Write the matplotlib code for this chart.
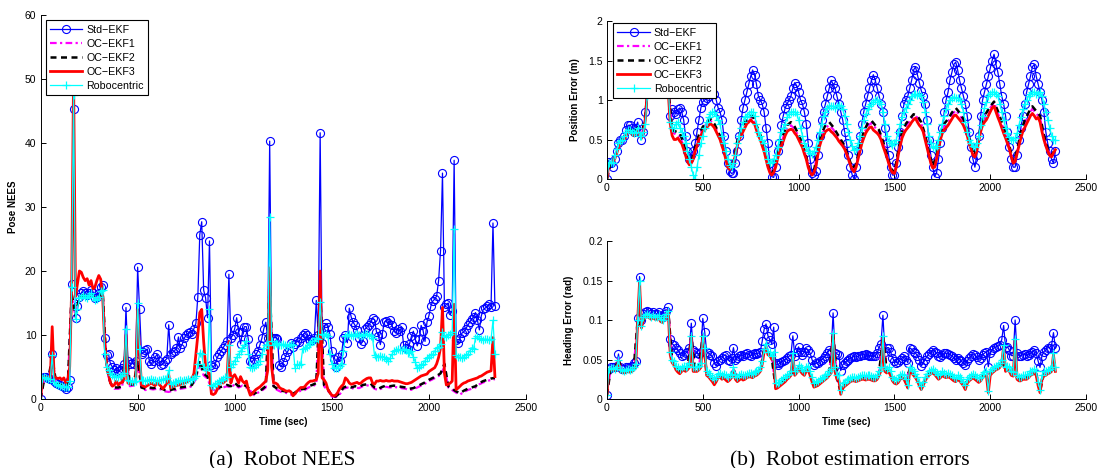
import matplotlib
matplotlib.use("Agg")
import matplotlib.pyplot as plt
import numpy as np

# sample times (s): filters logged every 10 s, OC-EKF1/2 kept every 20 s
t10 = np.arange(0, 2341, 10)
t20 = np.arange(0, 2341, 20)

# ---------------- pose NEES ----------------
std_nees = [
    0, 3.3, 3.5, 3.5, 3.3, 3.2, 7.0, 2.8, 2.5, 2.3,
    2.2, 2.0, 1.8, 1.6, 1.8, 3.0, 18.0, 45.3, 12.6, 14.5,
    16.0, 16.5, 16.8, 16.5, 16.2, 16.6, 17.0, 16.5, 15.8, 16.0,
    16.5, 17.5, 17.8, 9.6, 6.8, 7.0, 5.5, 5.0, 4.5, 4.8,
    4.3, 4.6, 4.8, 5.5, 14.3, 6.0, 5.5, 5.6, 5.5, 6.0,
    20.6, 14.0, 7.0, 7.3, 7.6, 7.8, 6.0, 5.5, 6.0, 6.5,
    7.0, 6.0, 5.3, 5.5, 6.0, 6.3, 11.6, 7.0, 7.3, 7.5,
    8.0, 9.7, 8.0, 8.6, 9.5, 10.0, 10.3, 10.5, 10.2, 11.0,
    11.8, 16.0, 25.7, 27.7, 17.0, 15.8, 12.7, 24.7, 5.3, 5.0,
    5.5, 6.5, 7.0, 7.5, 8.0, 8.5, 9.0, 19.5, 9.5, 10.0,
    11.0, 12.7, 10.5, 8.6, 10.5, 11.3, 11.3, 9.3, 6.0, 5.8,
    6.3, 7.0, 7.5, 8.5, 9.5, 11.0, 12.0, 9.5, 40.3, 9.5,
    9.6, 9.6, 9.4, 5.3, 5.0, 5.8, 6.5, 7.3, 7.8, 8.8,
    8.2, 8.6, 9.0, 8.9, 9.5, 10.0, 10.3, 10.0, 9.4, 9.0,
    9.2, 9.5, 15.4, 10.0, 41.6, 8.8, 11.3, 11.8, 11.2, 10.1,
    7.5, 6.2, 5.0, 6.5, 5.9, 7.0, 9.5, 10.0, 8.8, 14.2,
    12.8, 12.0, 11.5, 10.8, 9.6, 8.6, 9.0, 10.9, 11.2, 11.6,
    12.0, 12.6, 12.4, 10.5, 9.9, 8.5, 10.2, 12.0, 12.2, 11.8,
    12.3, 11.5, 10.6, 10.3, 11.0, 10.7, 11.2, 8.4, 8.0, 7.8,
    8.6, 9.8, 10.6, 9.3, 8.3, 9.3, 11.5, 10.7, 9.0, 12.0,
    13.0, 14.5, 15.3, 15.6, 16.1, 18.5, 23.2, 35.3, 14.3, 14.8,
    15.0, 13.2, 13.8, 37.3, 9.2, 8.7, 9.5, 10.3, 10.5, 11.0,
    11.5, 12.0, 12.5, 12.8, 13.5, 12.3, 10.8, 13.0, 14.0, 14.2,
    14.5, 14.8, 14.4, 27.5, 14.6]

rob_nees = [
    0, 3.3, 3.4, 3.3, 3.2, 3.2, 6.8, 2.6, 2.4, 2.2,
    2.1, 2.0, 1.9, 1.8, 1.9, 2.8, 17.5, 47.5, 12.5, 14.0,
    15.8, 16.0, 16.3, 16.0, 15.8, 16.2, 16.5, 16.0, 15.5, 15.6,
    16.0, 16.8, 17.0, 7.0, 5.0, 4.5, 4.0, 3.7, 3.5, 3.5,
    3.5, 3.6, 3.8, 4.0, 11.0, 3.0, 2.8, 2.8, 2.7, 2.8,
    15.0, 7.8, 3.0, 2.9, 2.8, 2.9, 3.0, 3.1, 3.0, 2.9,
    2.8, 2.9, 3.0, 3.1, 3.2, 3.3, 4.5, 2.3, 2.5, 2.6,
    2.7, 2.8, 2.9, 2.8, 2.9, 3.0, 3.1, 3.0, 3.1, 3.3,
    3.6, 5.5, 7.2, 7.0, 5.0, 4.5, 5.0, 14.0, 2.2, 2.0,
    2.3, 2.5, 2.8, 3.0, 3.2, 3.4, 3.5, 8.5, 5.0, 5.5,
    6.0, 6.5, 7.0, 7.5, 8.0, 8.5, 9.0, 7.0, 5.0, 4.8,
    5.0, 5.3, 5.5, 6.0, 7.0, 8.0, 8.5, 8.5, 28.4, 9.0,
    8.5, 8.8, 8.6, 8.4, 8.5, 8.6, 8.5, 8.3, 8.5, 8.6,
    8.4, 4.9, 5.4, 5.3, 5.5, 7.8, 8.0, 8.2, 8.5, 8.8,
    9.0, 9.1, 9.5, 9.3, 15.1, 10.1, 10.0, 10.2, 9.8, 7.0,
    5.5, 4.9, 4.8, 4.9, 5.2, 5.4, 7.5, 9.8, 10.0, 10.1,
    10.0, 9.9, 10.1, 10.2, 10.0, 9.8, 10.0, 10.1, 10.2, 10.0,
    9.9, 9.5, 6.8, 6.6, 6.5, 6.7, 6.6, 6.5, 6.2, 6.0,
    6.4, 7.0, 7.5, 7.7, 7.8, 7.6, 7.7, 7.8, 7.6, 7.2,
    7.4, 7.5, 6.5, 5.8, 4.9, 5.0, 5.3, 5.5, 6.0, 6.4,
    6.6, 6.8, 7.0, 7.5, 8.0, 8.2, 8.6, 10.4, 9.8, 9.7,
    10.0, 10.2, 10.4, 26.6, 6.8, 6.6, 6.5, 6.4, 6.6, 6.8,
    7.0, 7.5, 8.0, 7.8, 9.6, 9.8, 9.6, 9.3, 9.2, 9.4,
    9.3, 9.2, 9.3, 12.3, 7.0]

oc3_nees = [
    0, 3.3, 3.4, 3.3, 3.3, 3.2, 11.3, 3.5, 3.3, 3.2,
    3.3, 3.0, 3.3, 2.5, 3.0, 5.0, 17.0, 50.5, 16.0, 18.0,
    20.0, 19.8, 19.0, 18.5, 18.8, 17.8, 18.5, 17.2, 17.5, 18.5,
    19.3, 18.7, 16.0, 9.0, 5.5, 4.0, 2.5, 2.0, 2.2, 2.8,
    2.2, 2.5, 2.6, 3.0, 10.0, 2.5, 2.4, 2.5, 2.5, 2.8,
    14.0, 7.0, 2.2, 2.0, 1.9, 2.1, 2.3, 2.5, 2.3, 2.1,
    2.5, 2.3, 2.0, 1.6, 2.0, 2.4, 3.8, 1.7, 1.9, 2.0,
    2.1, 2.2, 2.3, 2.4, 2.5, 2.6, 2.8, 3.0, 3.2, 4.0,
    7.0, 10.0, 13.5, 14.0, 9.0, 5.0, 4.0, 4.0, 0.8, 0.7,
    0.9, 1.5, 2.4, 3.0, 2.5, 2.8, 3.0, 9.0, 2.5, 3.5,
    3.8, 3.2, 2.5, 3.5, 2.8, 2.5, 2.8, 1.5, 0.6, 0.8,
    1.2, 1.5, 1.7, 1.9, 2.2, 2.5, 2.8, 4.5, 20.5, 5.0,
    2.5, 2.5, 2.3, 1.8, 1.6, 1.5, 1.3, 1.2, 1.3, 1.1,
    0.5, 0.8, 1.2, 1.5, 1.8, 1.8, 1.9, 2.3, 2.6, 2.8,
    2.8, 2.9, 3.0, 4.0, 20.0, 3.3, 3.0, 2.5, 1.5, 1.0,
    0.6, 0.5, 0.6, 1.0, 1.6, 2.0, 2.3, 3.3, 3.0, 2.5,
    2.3, 2.4, 2.5, 2.6, 2.4, 2.5, 2.8, 3.0, 3.2, 3.3,
    3.3, 2.5, 2.3, 2.8, 2.8, 2.9, 2.8, 2.8, 2.9, 2.8,
    2.8, 2.9, 2.8, 2.8, 2.8, 2.7, 2.6, 2.5, 2.4, 2.4,
    2.5, 2.6, 2.8, 3.0, 3.2, 3.4, 3.6, 3.7, 3.8, 3.9,
    4.3, 4.5, 4.7, 4.9, 5.5, 6.5, 8.0, 14.3, 4.0, 2.2,
    2.3, 2.5, 2.8, 14.8, 1.5, 1.7, 2.0, 2.3, 2.5, 2.6,
    2.8, 2.9, 3.0, 3.1, 3.2, 3.3, 3.5, 3.6, 3.8, 4.0,
    4.2, 4.3, 4.4, 9.6, 3.5]

oc2_nees = [
    0, 3.3, 3.2, 6.5, 2.6, 2.3, 2.0, 2.0, 16.5, 13.0,
    16.0, 16.2, 16.0, 16.3, 15.8, 16.0, 16.8, 5.0, 2.5, 1.8,
    1.8, 2.0, 8.0, 2.2, 2.3, 6.0, 1.8, 1.6, 1.8, 1.7,
    1.8, 1.7, 1.4, 1.3, 1.5, 1.6, 1.8, 1.9, 2.0, 2.2,
    3.5, 6.0, 4.0, 3.5, 1.8, 1.5, 1.8, 2.0, 2.2, 2.0,
    2.5, 2.0, 2.3, 2.0, 1.5, 0.8, 1.2, 1.5, 2.0, 18.0,
    2.0, 1.6, 1.3, 1.2, 1.0, 0.8, 1.2, 1.5, 1.6, 2.0,
    2.2, 2.5, 17.0, 2.2, 1.5, 0.5, 0.4, 0.9, 1.8, 2.0,
    1.8, 2.0, 1.9, 2.2, 2.3, 2.4, 1.8, 1.6, 1.9, 2.1,
    2.0, 2.1, 2.0, 1.9, 1.8, 1.6, 1.7, 2.0, 2.3, 2.6,
    3.0, 3.3, 3.6, 4.0, 5.5, 2.0, 1.6, 1.2, 0.9, 1.3,
    1.6, 1.8, 2.0, 2.5, 2.8, 3.0, 3.2, 3.3]

oc1_nees = [
    0, 3.2, 3.1, 6.3, 2.5, 2.2, 1.9, 1.9, 16.3, 12.8,
    15.8, 16.0, 15.8, 16.1, 15.6, 15.8, 16.5, 4.8, 2.3, 1.6,
    1.6, 1.8, 7.5, 2.0, 2.1, 5.5, 1.6, 1.4, 1.6, 1.5,
    1.6, 1.5, 1.2, 1.1, 1.3, 1.4, 1.6, 1.7, 1.8, 2.0,
    3.2, 5.5, 3.7, 3.2, 1.6, 1.3, 1.6, 1.8, 2.0, 1.8,
    2.3, 1.8, 2.1, 1.8, 1.3, 0.6, 1.0, 1.3, 1.8, 17.0,
    1.8, 1.4, 1.1, 1.0, 0.8, 0.6, 1.0, 1.3, 1.4, 1.8,
    2.0, 2.3, 16.0, 2.0, 1.3, 0.4, 0.3, 0.7, 1.6, 1.8,
    1.6, 1.8, 1.7, 2.0, 2.1, 2.2, 1.6, 1.4, 1.7, 1.9,
    1.8, 1.9, 1.8, 1.7, 1.6, 1.4, 1.5, 1.8, 2.1, 2.4,
    2.8, 3.1, 3.4, 3.8, 5.0, 1.8, 1.4, 1.0, 0.7, 1.1,
    1.4, 1.6, 1.8, 2.3, 2.6, 2.8, 3.0, 3.1]

# ---------------- position error (m) ----------------
std_pos = [
    0, 0.22, 0.20, 0.15, 0.25, 0.35, 0.45, 0.50, 0.50, 0.55,
    0.62, 0.68, 0.68, 0.65, 0.60, 0.65, 0.72, 0.60, 0.50, 0.60,
    0.85, 1.15, 1.40, 1.50, 1.45, 1.40, 1.35, 1.40, 1.45, 1.40,
    1.35, 1.30, 1.25, 0.80, 0.88, 0.85, 0.82, 0.88, 0.90, 0.85,
    0.75, 0.55, 0.35, 0.25, 0.30, 0.35, 0.45, 0.60, 0.75, 0.90,
    0.98, 1.00, 1.02, 1.05, 1.10, 1.12, 1.08, 1.00, 0.90, 0.85,
    0.75, 0.55, 0.35, 0.20, 0.10, 0.07, 0.08, 0.20, 0.35, 0.55,
    0.75, 0.90, 1.00, 1.10, 1.20, 1.30, 1.38, 1.32, 1.20, 1.05,
    1.00, 0.95, 0.85, 0.65, 0.45, 0.20, 0.03, 0.02, 0.15, 0.35,
    0.45, 0.68, 0.80, 0.90, 0.95, 1.00, 1.05, 1.15, 1.22, 1.18,
    1.10, 1.00, 0.95, 0.85, 0.70, 0.45, 0.25, 0.08, 0.05, 0.10,
    0.30, 0.55, 0.75, 0.85, 0.95, 1.05, 1.15, 1.25, 1.20, 1.15,
    1.05, 0.95, 0.85, 0.75, 0.60, 0.45, 0.30, 0.15, 0.05, 0.00,
    0.15, 0.35, 0.55, 0.70, 0.85, 0.95, 1.05, 1.15, 1.25, 1.32,
    1.25, 1.15, 1.05, 0.95, 0.85, 0.65, 0.45, 0.30, 0.15, 0.05,
    0.05, 0.20, 0.40, 0.60, 0.80, 0.95, 1.00, 1.05, 1.15, 1.25,
    1.38, 1.42, 1.32, 1.22, 1.12, 1.05, 0.95, 0.75, 0.50, 0.30,
    0.15, 0.03, 0.08, 0.25, 0.45, 0.65, 0.85, 1.00, 1.10, 1.25,
    1.35, 1.45, 1.48, 1.38, 1.25, 1.15, 1.05, 0.95, 0.80, 0.60,
    0.40, 0.25, 0.15, 0.30, 0.55, 0.80, 1.00, 1.10, 1.20, 1.30,
    1.40, 1.50, 1.58, 1.45, 1.35, 1.20, 1.05, 0.95, 0.80, 0.60,
    0.40, 0.25, 0.15, 0.15, 0.30, 0.50, 0.65, 0.80, 0.95, 1.10,
    1.20, 1.30, 1.42, 1.45, 1.30, 1.20, 1.10, 1.00, 0.85, 0.60,
    0.45, 0.35, 0.25, 0.20, 0.35]

rob_pos = [
    0, 0.20, 0.22, 0.20, 0.30, 0.38, 0.45, 0.48, 0.50, 0.55,
    0.60, 0.62, 0.62, 0.60, 0.58, 0.60, 0.65, 0.55, 0.55, 0.60,
    0.70, 1.05, 1.30, 1.40, 1.35, 1.30, 1.25, 1.30, 1.35, 1.30,
    1.25, 1.20, 1.15, 0.72, 0.65, 0.65, 0.70, 0.72, 0.65, 0.60,
    0.55, 0.45, 0.35, 0.25, 0.15, 0.05, 0.00, 0.15, 0.30, 0.45,
    0.55, 0.65, 0.72, 0.78, 0.82, 0.85, 0.85, 0.80, 0.75, 0.70,
    0.55, 0.45, 0.35, 0.25, 0.18, 0.15, 0.20, 0.30, 0.45, 0.55,
    0.65, 0.72, 0.78, 0.80, 0.82, 0.85, 0.85, 0.80, 0.70, 0.60,
    0.55, 0.50, 0.45, 0.35, 0.25, 0.20, 0.22, 0.25, 0.30, 0.40,
    0.50, 0.60, 0.65, 0.70, 0.78, 0.82, 0.85, 0.85, 0.85, 0.82,
    0.75, 0.65, 0.55, 0.45, 0.40, 0.35, 0.33, 0.32, 0.35, 0.40,
    0.50, 0.60, 0.70, 0.80, 0.85, 0.90, 0.92, 0.93, 0.92, 0.90,
    0.93, 0.94, 0.93, 0.88, 0.80, 0.70, 0.60, 0.50, 0.42, 0.37,
    0.38, 0.45, 0.55, 0.65, 0.75, 0.82, 0.88, 0.92, 0.95, 0.98,
    1.00, 1.00, 0.98, 0.95, 0.85, 0.70, 0.55, 0.48, 0.45, 0.43,
    0.45, 0.50, 0.60, 0.70, 0.78, 0.85, 0.90, 0.95, 1.00, 1.05,
    1.07, 1.07, 1.06, 1.07, 1.05, 0.98, 0.85, 0.70, 0.55, 0.45,
    0.40, 0.39, 0.42, 0.50, 0.60, 0.70, 0.80, 0.88, 0.95, 1.00,
    1.02, 1.04, 1.03, 1.02, 1.00, 0.95, 0.85, 0.72, 0.60, 0.50,
    0.45, 0.42, 0.41, 0.45, 0.55, 0.68, 0.80, 0.90, 0.98, 1.05,
    1.08, 1.10, 1.10, 1.08, 1.05, 0.95, 0.85, 0.75, 0.65, 0.58,
    0.53, 0.50, 0.50, 0.52, 0.58, 0.68, 0.78, 0.88, 0.95, 1.00,
    1.05, 1.08, 1.10, 1.10, 1.08, 1.08, 1.10, 1.05, 0.95, 0.85,
    0.75, 0.65, 0.55, 0.50, 0.50]

oc3_pos = [
    0, 0.20, 0.20, 0.22, 0.25, 0.32, 0.40, 0.45, 0.48, 0.50,
    0.55, 0.60, 0.60, 0.57, 0.55, 0.58, 0.62, 0.55, 0.52, 0.58,
    0.75, 1.10, 1.30, 1.35, 1.30, 1.25, 1.20, 1.25, 1.30, 1.25,
    1.20, 1.15, 1.10, 0.70, 0.55, 0.50, 0.50, 0.52, 0.48, 0.45,
    0.38, 0.30, 0.22, 0.18, 0.20, 0.25, 0.35, 0.42, 0.50, 0.55,
    0.60, 0.62, 0.65, 0.68, 0.70, 0.68, 0.65, 0.60, 0.55, 0.50,
    0.42, 0.35, 0.25, 0.15, 0.12, 0.15, 0.20, 0.30, 0.42, 0.50,
    0.55, 0.60, 0.65, 0.70, 0.72, 0.75, 0.72, 0.70, 0.62, 0.55,
    0.50, 0.42, 0.35, 0.25, 0.15, 0.08, 0.05, 0.08, 0.15, 0.25,
    0.35, 0.42, 0.48, 0.55, 0.60, 0.62, 0.63, 0.62, 0.58, 0.55,
    0.50, 0.45, 0.40, 0.32, 0.25, 0.15, 0.08, 0.05, 0.08, 0.15,
    0.30, 0.42, 0.50, 0.55, 0.60, 0.62, 0.63, 0.60, 0.58, 0.55,
    0.52, 0.48, 0.45, 0.42, 0.38, 0.32, 0.25, 0.18, 0.12, 0.09,
    0.15, 0.25, 0.35, 0.45, 0.52, 0.58, 0.62, 0.65, 0.66, 0.62,
    0.60, 0.58, 0.55, 0.50, 0.42, 0.35, 0.28, 0.20, 0.12, 0.08,
    0.07, 0.15, 0.30, 0.42, 0.52, 0.58, 0.62, 0.65, 0.68, 0.72,
    0.75, 0.77, 0.72, 0.68, 0.65, 0.60, 0.50, 0.40, 0.30, 0.20,
    0.14, 0.15, 0.25, 0.38, 0.50, 0.58, 0.62, 0.65, 0.68, 0.72,
    0.76, 0.80, 0.81, 0.78, 0.75, 0.72, 0.68, 0.62, 0.55, 0.45,
    0.38, 0.30, 0.28, 0.35, 0.48, 0.60, 0.68, 0.72, 0.75, 0.80,
    0.85, 0.90, 0.92, 0.85, 0.78, 0.72, 0.65, 0.58, 0.52, 0.45,
    0.38, 0.28, 0.20, 0.22, 0.32, 0.42, 0.52, 0.60, 0.65, 0.70,
    0.75, 0.80, 0.83, 0.80, 0.76, 0.78, 0.72, 0.60, 0.50, 0.42,
    0.35, 0.30, 0.28, 0.33, 0.37]

oc2_pos = [
    0, 0.21, 0.27, 0.43, 0.50, 0.58, 0.63, 0.58, 0.65, 0.55,
    0.80, 1.35, 1.35, 1.25, 1.35, 1.25, 1.15, 0.62, 0.60, 0.58,
    0.45, 0.26, 0.22, 0.40, 0.56, 0.66, 0.72, 0.76, 0.70, 0.60,
    0.46, 0.28, 0.13, 0.22, 0.48, 0.62, 0.72, 0.78, 0.80, 0.68,
    0.56, 0.40, 0.18, 0.06, 0.18, 0.42, 0.56, 0.68, 0.72, 0.66,
    0.56, 0.45, 0.28, 0.09, 0.10, 0.36, 0.58, 0.68, 0.72, 0.66,
    0.58, 0.50, 0.42, 0.28, 0.14, 0.18, 0.42, 0.60, 0.70, 0.74,
    0.68, 0.62, 0.48, 0.32, 0.14, 0.08, 0.36, 0.60, 0.70, 0.76,
    0.82, 0.80, 0.72, 0.56, 0.34, 0.16, 0.30, 0.58, 0.70, 0.76,
    0.84, 0.90, 0.84, 0.76, 0.62, 0.42, 0.30, 0.54, 0.76, 0.84,
    0.92, 0.98, 0.86, 0.72, 0.58, 0.42, 0.22, 0.36, 0.60, 0.74,
    0.84, 0.92, 0.86, 0.80, 0.56, 0.38, 0.30, 0.38]

oc1_pos = [
    0, 0.20, 0.26, 0.42, 0.49, 0.57, 0.62, 0.57, 0.64, 0.54,
    0.78, 1.33, 1.33, 1.23, 1.33, 1.23, 1.13, 0.60, 0.56, 0.54,
    0.42, 0.24, 0.21, 0.38, 0.54, 0.64, 0.70, 0.74, 0.68, 0.58,
    0.45, 0.27, 0.13, 0.21, 0.46, 0.60, 0.70, 0.76, 0.78, 0.66,
    0.54, 0.38, 0.17, 0.06, 0.17, 0.40, 0.53, 0.65, 0.68, 0.63,
    0.54, 0.43, 0.27, 0.09, 0.09, 0.34, 0.55, 0.65, 0.68, 0.63,
    0.56, 0.48, 0.40, 0.27, 0.13, 0.17, 0.40, 0.57, 0.67, 0.71,
    0.65, 0.60, 0.46, 0.30, 0.13, 0.08, 0.34, 0.57, 0.67, 0.73,
    0.80, 0.78, 0.70, 0.54, 0.33, 0.15, 0.28, 0.55, 0.67, 0.73,
    0.81, 0.87, 0.81, 0.73, 0.60, 0.40, 0.29, 0.52, 0.73, 0.81,
    0.90, 0.97, 0.83, 0.70, 0.56, 0.40, 0.21, 0.34, 0.57, 0.71,
    0.81, 0.89, 0.83, 0.77, 0.54, 0.37, 0.29, 0.38]

# ---------------- heading error (rad) ----------------
std_head = [
    0.005, 0.038, 0.040, 0.040, 0.040, 0.042, 0.057, 0.040, 0.038, 0.038,
    0.040, 0.041, 0.040, 0.042, 0.045, 0.048, 0.103, 0.155, 0.100, 0.108,
    0.110, 0.112, 0.110, 0.108, 0.110, 0.108, 0.108, 0.110, 0.105, 0.104,
    0.108, 0.112, 0.116, 0.076, 0.070, 0.068, 0.064, 0.062, 0.058, 0.055,
    0.056, 0.058, 0.060, 0.065, 0.096, 0.062, 0.060, 0.058, 0.057, 0.060,
    0.102, 0.085, 0.060, 0.058, 0.056, 0.054, 0.045, 0.042, 0.048, 0.050,
    0.052, 0.055, 0.056, 0.050, 0.048, 0.052, 0.065, 0.050, 0.052, 0.055,
    0.056, 0.055, 0.057, 0.058, 0.056, 0.055, 0.057, 0.058, 0.057, 0.058,
    0.060, 0.073, 0.088, 0.095, 0.080, 0.075, 0.070, 0.091, 0.045, 0.043,
    0.045, 0.047, 0.048, 0.050, 0.052, 0.054, 0.056, 0.080, 0.055, 0.060,
    0.066, 0.060, 0.056, 0.060, 0.064, 0.062, 0.058, 0.050, 0.043, 0.045,
    0.046, 0.048, 0.050, 0.052, 0.055, 0.058, 0.062, 0.060, 0.109, 0.058,
    0.057, 0.056, 0.036, 0.043, 0.046, 0.048, 0.050, 0.052, 0.053, 0.054,
    0.053, 0.054, 0.055, 0.056, 0.056, 0.057, 0.056, 0.055, 0.054, 0.054,
    0.055, 0.058, 0.065, 0.070, 0.106, 0.060, 0.065, 0.065, 0.060, 0.052,
    0.048, 0.046, 0.047, 0.050, 0.052, 0.055, 0.050, 0.046, 0.065, 0.063,
    0.060, 0.058, 0.055, 0.050, 0.042, 0.045, 0.050, 0.054, 0.057, 0.060,
    0.062, 0.060, 0.058, 0.055, 0.053, 0.056, 0.058, 0.058, 0.057, 0.056,
    0.055, 0.052, 0.050, 0.052, 0.050, 0.048, 0.045, 0.043, 0.048, 0.052,
    0.055, 0.057, 0.056, 0.053, 0.050, 0.052, 0.056, 0.058, 0.060, 0.041,
    0.058, 0.062, 0.065, 0.066, 0.067, 0.068, 0.075, 0.093, 0.065, 0.066,
    0.062, 0.055, 0.055, 0.100, 0.058, 0.055, 0.055, 0.056, 0.057, 0.055,
    0.056, 0.058, 0.060, 0.062, 0.058, 0.048, 0.040, 0.055, 0.060, 0.062,
    0.065, 0.065, 0.068, 0.084, 0.065]

rob_head = [
    0.005, 0.038, 0.039, 0.039, 0.038, 0.040, 0.050, 0.038, 0.037, 0.036,
    0.037, 0.038, 0.037, 0.038, 0.040, 0.044, 0.100, 0.150, 0.093, 0.104,
    0.106, 0.108, 0.106, 0.104, 0.106, 0.104, 0.104, 0.106, 0.101, 0.100,
    0.104, 0.108, 0.112, 0.060, 0.050, 0.048, 0.042, 0.040, 0.038, 0.040,
    0.042, 0.040, 0.042, 0.045, 0.080, 0.040, 0.040, 0.040, 0.042, 0.045,
    0.080, 0.065, 0.035, 0.033, 0.030, 0.028, 0.025, 0.028, 0.032, 0.033,
    0.030, 0.032, 0.030, 0.028, 0.030, 0.032, 0.040, 0.030, 0.028, 0.030,
    0.032, 0.030, 0.030, 0.032, 0.033, 0.033, 0.032, 0.034, 0.035, 0.037,
    0.040, 0.048, 0.063, 0.070, 0.060, 0.060, 0.055, 0.060, 0.020, 0.020,
    0.022, 0.024, 0.026, 0.028, 0.030, 0.032, 0.035, 0.058, 0.035, 0.038,
    0.043, 0.040, 0.038, 0.035, 0.040, 0.042, 0.035, 0.028, 0.020, 0.022,
    0.023, 0.025, 0.027, 0.028, 0.030, 0.032, 0.035, 0.038, 0.084, 0.040,
    0.030, 0.030, 0.011, 0.020, 0.022, 0.024, 0.025, 0.027, 0.028, 0.028,
    0.027, 0.028, 0.029, 0.030, 0.030, 0.029, 0.030, 0.030, 0.029, 0.028,
    0.028, 0.030, 0.035, 0.040, 0.080, 0.040, 0.038, 0.040, 0.035, 0.028,
    0.025, 0.024, 0.026, 0.030, 0.032, 0.030, 0.025, 0.018, 0.040, 0.038,
    0.035, 0.032, 0.028, 0.022, 0.017, 0.022, 0.028, 0.032, 0.035, 0.037,
    0.038, 0.036, 0.033, 0.030, 0.032, 0.035, 0.033, 0.032, 0.033, 0.032,
    0.030, 0.028, 0.027, 0.030, 0.028, 0.025, 0.022, 0.018, 0.025, 0.028,
    0.030, 0.032, 0.030, 0.028, 0.026, 0.028, 0.032, 0.034, 0.035, 0.010,
    0.035, 0.038, 0.040, 0.042, 0.043, 0.045, 0.050, 0.068, 0.040, 0.042,
    0.040, 0.035, 0.034, 0.076, 0.030, 0.028, 0.028, 0.030, 0.030, 0.030,
    0.032, 0.035, 0.036, 0.038, 0.035, 0.022, 0.012, 0.030, 0.035, 0.035,
    0.037, 0.038, 0.040, 0.058, 0.040]

oc3_head = [
    0.005, 0.037, 0.037, 0.037, 0.036, 0.037, 0.048, 0.035, 0.034, 0.033,
    0.034, 0.035, 0.034, 0.035, 0.037, 0.041, 0.098, 0.148, 0.090, 0.101,
    0.103, 0.105, 0.103, 0.101, 0.103, 0.101, 0.101, 0.103, 0.098, 0.097,
    0.101, 0.105, 0.110, 0.056, 0.046, 0.043, 0.037, 0.034, 0.032, 0.035,
    0.037, 0.035, 0.037, 0.040, 0.078, 0.035, 0.035, 0.035, 0.037, 0.040,
    0.078, 0.060, 0.030, 0.028, 0.025, 0.022, 0.018, 0.022, 0.027, 0.028,
    0.025, 0.027, 0.024, 0.022, 0.024, 0.027, 0.036, 0.025, 0.022, 0.024,
    0.026, 0.024, 0.025, 0.027, 0.028, 0.028, 0.027, 0.029, 0.030, 0.032,
    0.035, 0.044, 0.060, 0.067, 0.056, 0.055, 0.050, 0.056, 0.013, 0.014,
    0.016, 0.018, 0.020, 0.022, 0.025, 0.027, 0.030, 0.055, 0.030, 0.033,
    0.038, 0.035, 0.032, 0.030, 0.035, 0.037, 0.030, 0.022, 0.015, 0.016,
    0.017, 0.019, 0.021, 0.023, 0.025, 0.027, 0.030, 0.033, 0.082, 0.035,
    0.025, 0.024, 0.006, 0.014, 0.016, 0.018, 0.020, 0.022, 0.023, 0.023,
    0.022, 0.023, 0.024, 0.025, 0.025, 0.024, 0.025, 0.025, 0.024, 0.023,
    0.023, 0.025, 0.030, 0.036, 0.078, 0.035, 0.033, 0.035, 0.030, 0.023,
    0.020, 0.019, 0.021, 0.025, 0.027, 0.025, 0.020, 0.014, 0.036, 0.033,
    0.030, 0.027, 0.023, 0.017, 0.012, 0.017, 0.023, 0.027, 0.030, 0.032,
    0.033, 0.031, 0.028, 0.025, 0.027, 0.030, 0.028, 0.027, 0.028, 0.027,
    0.025, 0.023, 0.022, 0.025, 0.023, 0.020, 0.017, 0.012, 0.020, 0.023,
    0.025, 0.027, 0.025, 0.023, 0.021, 0.023, 0.027, 0.029, 0.030, 0.008,
    0.030, 0.033, 0.035, 0.037, 0.038, 0.040, 0.046, 0.066, 0.035, 0.037,
    0.035, 0.030, 0.029, 0.074, 0.025, 0.023, 0.023, 0.025, 0.025, 0.025,
    0.027, 0.030, 0.031, 0.033, 0.030, 0.017, 0.008, 0.025, 0.030, 0.030,
    0.032, 0.033, 0.035, 0.056, 0.035]

oc2_head = [
    0.005, 0.039, 0.038, 0.050, 0.036, 0.036, 0.036, 0.039, 0.100, 0.092,
    0.105, 0.105, 0.105, 0.103, 0.100, 0.103, 0.112, 0.048, 0.039, 0.034,
    0.039, 0.039, 0.080, 0.037, 0.039, 0.080, 0.032, 0.027, 0.020, 0.029,
    0.027, 0.026, 0.026, 0.038, 0.024, 0.028, 0.027, 0.030, 0.029, 0.032,
    0.037, 0.062, 0.058, 0.052, 0.015, 0.018, 0.022, 0.027, 0.032, 0.032,
    0.040, 0.034, 0.037, 0.032, 0.017, 0.019, 0.023, 0.027, 0.032, 0.084,
    0.027, 0.008, 0.018, 0.022, 0.025, 0.024, 0.026, 0.027, 0.027, 0.026,
    0.025, 0.032, 0.080, 0.035, 0.032, 0.022, 0.023, 0.029, 0.022, 0.038,
    0.032, 0.025, 0.014, 0.025, 0.032, 0.035, 0.030, 0.029, 0.030, 0.030,
    0.027, 0.024, 0.025, 0.019, 0.022, 0.027, 0.027, 0.023, 0.029, 0.032,
    0.032, 0.037, 0.040, 0.048, 0.037, 0.037, 0.031, 0.027, 0.025, 0.027,
    0.029, 0.033, 0.032, 0.010, 0.032, 0.034, 0.037, 0.037]

oc1_head = [
    0.005, 0.040, 0.039, 0.051, 0.037, 0.037, 0.037, 0.040, 0.101, 0.093,
    0.106, 0.106, 0.106, 0.104, 0.101, 0.104, 0.113, 0.049, 0.040, 0.035,
    0.040, 0.040, 0.081, 0.038, 0.040, 0.081, 0.033, 0.028, 0.021, 0.030,
    0.028, 0.027, 0.027, 0.039, 0.025, 0.029, 0.028, 0.031, 0.030, 0.033,
    0.038, 0.063, 0.059, 0.053, 0.016, 0.019, 0.023, 0.028, 0.033, 0.033,
    0.041, 0.035, 0.038, 0.033, 0.018, 0.020, 0.024, 0.028, 0.033, 0.085,
    0.028, 0.009, 0.019, 0.023, 0.026, 0.025, 0.027, 0.028, 0.028, 0.027,
    0.026, 0.033, 0.081, 0.036, 0.033, 0.023, 0.024, 0.030, 0.023, 0.039,
    0.033, 0.026, 0.015, 0.026, 0.033, 0.036, 0.031, 0.030, 0.031, 0.031,
    0.028, 0.025, 0.026, 0.020, 0.023, 0.028, 0.028, 0.024, 0.030, 0.033,
    0.033, 0.038, 0.041, 0.049, 0.038, 0.038, 0.032, 0.028, 0.026, 0.028,
    0.030, 0.034, 0.033, 0.011, 0.033, 0.035, 0.038, 0.038]

labels = ["Std\u2212EKF", "OC\u2212EKF1", "OC\u2212EKF2", "OC\u2212EKF3", "Robocentric"]

plt.rcParams["font.family"] = ["Liberation Sans", "DejaVu Sans"]
plt.rcParams["font.size"] = 7.5

fig = plt.figure(figsize=(10.99, 4.68), dpi=100)
ax_nees = fig.add_axes([0.0369, 0.1474, 0.4417, 0.8205])
ax_pos = fig.add_axes([0.5523, 0.6175, 0.4359, 0.3376])
ax_head = fig.add_axes([0.5523, 0.1474, 0.4359, 0.3376])


def draw(ax, std, oc1, oc2, oc3, rob):
    ax.plot(t10, std, "-o", color="blue", lw=0.9, ms=5.8, mfc="none", mew=0.8)
    ax.plot(t20, oc1, color="magenta", lw=1.6, linestyle=(0, (3, 1.5, 1, 1.5)))
    ax.plot(t20, oc2, color="black", lw=1.8, linestyle=(0, (2.4, 1.8)))
    ax.plot(t10, oc3, "-", color="red", lw=2.0)
    ax.plot(t10, rob, "-+", color="cyan", lw=0.9, ms=5.5, mew=0.9)
    ax.set_xlim(0, 2500)
    ax.set_xticks(np.arange(0, 2501, 500))
    for s in ("top", "right"):
        ax.spines[s].set_visible(False)
    ax.tick_params(direction="in", length=3.5, width=0.7, labelsize=7.5, pad=3)
    ax.spines["left"].set_linewidth(0.7)
    ax.spines["bottom"].set_linewidth(0.7)


def legend(ax, anchor):
    leg = ax.legend(labels, loc="upper left", bbox_to_anchor=anchor,
                    fontsize=7.7, handlelength=3.0, handletextpad=0.4,
                    labelspacing=0.38, borderpad=0.4, borderaxespad=0.0,
                    fancybox=False, framealpha=1.0, edgecolor="black")
    leg.get_frame().set_linewidth(0.8)


draw(ax_nees, std_nees, oc1_nees, oc2_nees, oc3_nees, rob_nees)
ax_nees.set_ylim(0, 60)
ax_nees.set_yticks(np.arange(0, 61, 10))
ax_nees.set_ylabel("Pose NEES", fontweight="bold", fontsize=7, labelpad=5)
ax_nees.set_xlabel("Time (sec)", fontweight="bold", fontsize=7, labelpad=3)
legend(ax_nees, (0.011, 0.986))

draw(ax_pos, std_pos, oc1_pos, oc2_pos, oc3_pos, rob_pos)
ax_pos.set_ylim(0, 2)
ax_pos.set_yticks([0, 0.5, 1, 1.5, 2])
ax_pos.set_yticklabels(["0", "0.5", "1", "1.5", "2"])
ax_pos.set_ylabel("Position Error (m)", fontweight="bold", fontsize=7, labelpad=6)
legend(ax_pos, (0.013, 0.985))

draw(ax_head, std_head, oc1_head, oc2_head, oc3_head, rob_head)
ax_head.set_ylim(0, 0.2)
ax_head.set_yticks([0, 0.05, 0.1, 0.15, 0.2])
ax_head.set_yticklabels(["0", "0.05", "0.1", "0.15", "0.2"])
ax_head.set_ylabel("Heading Error (rad)", fontweight="bold", fontsize=7, labelpad=6)
ax_head.set_xlabel("Time (sec)", fontweight="bold", fontsize=7, labelpad=3)

fig.text(0.2566, 0.016, "(a)  Robot NEES", ha="center", va="center",
         family=["Liberation Serif", "DejaVu Serif"], fontsize=15.5)
fig.text(0.773, 0.016, "(b)  Robot estimation errors", ha="center", va="center",
         family=["Liberation Serif", "DejaVu Serif"], fontsize=15.5)

fig.savefig("out.png", dpi=100)
